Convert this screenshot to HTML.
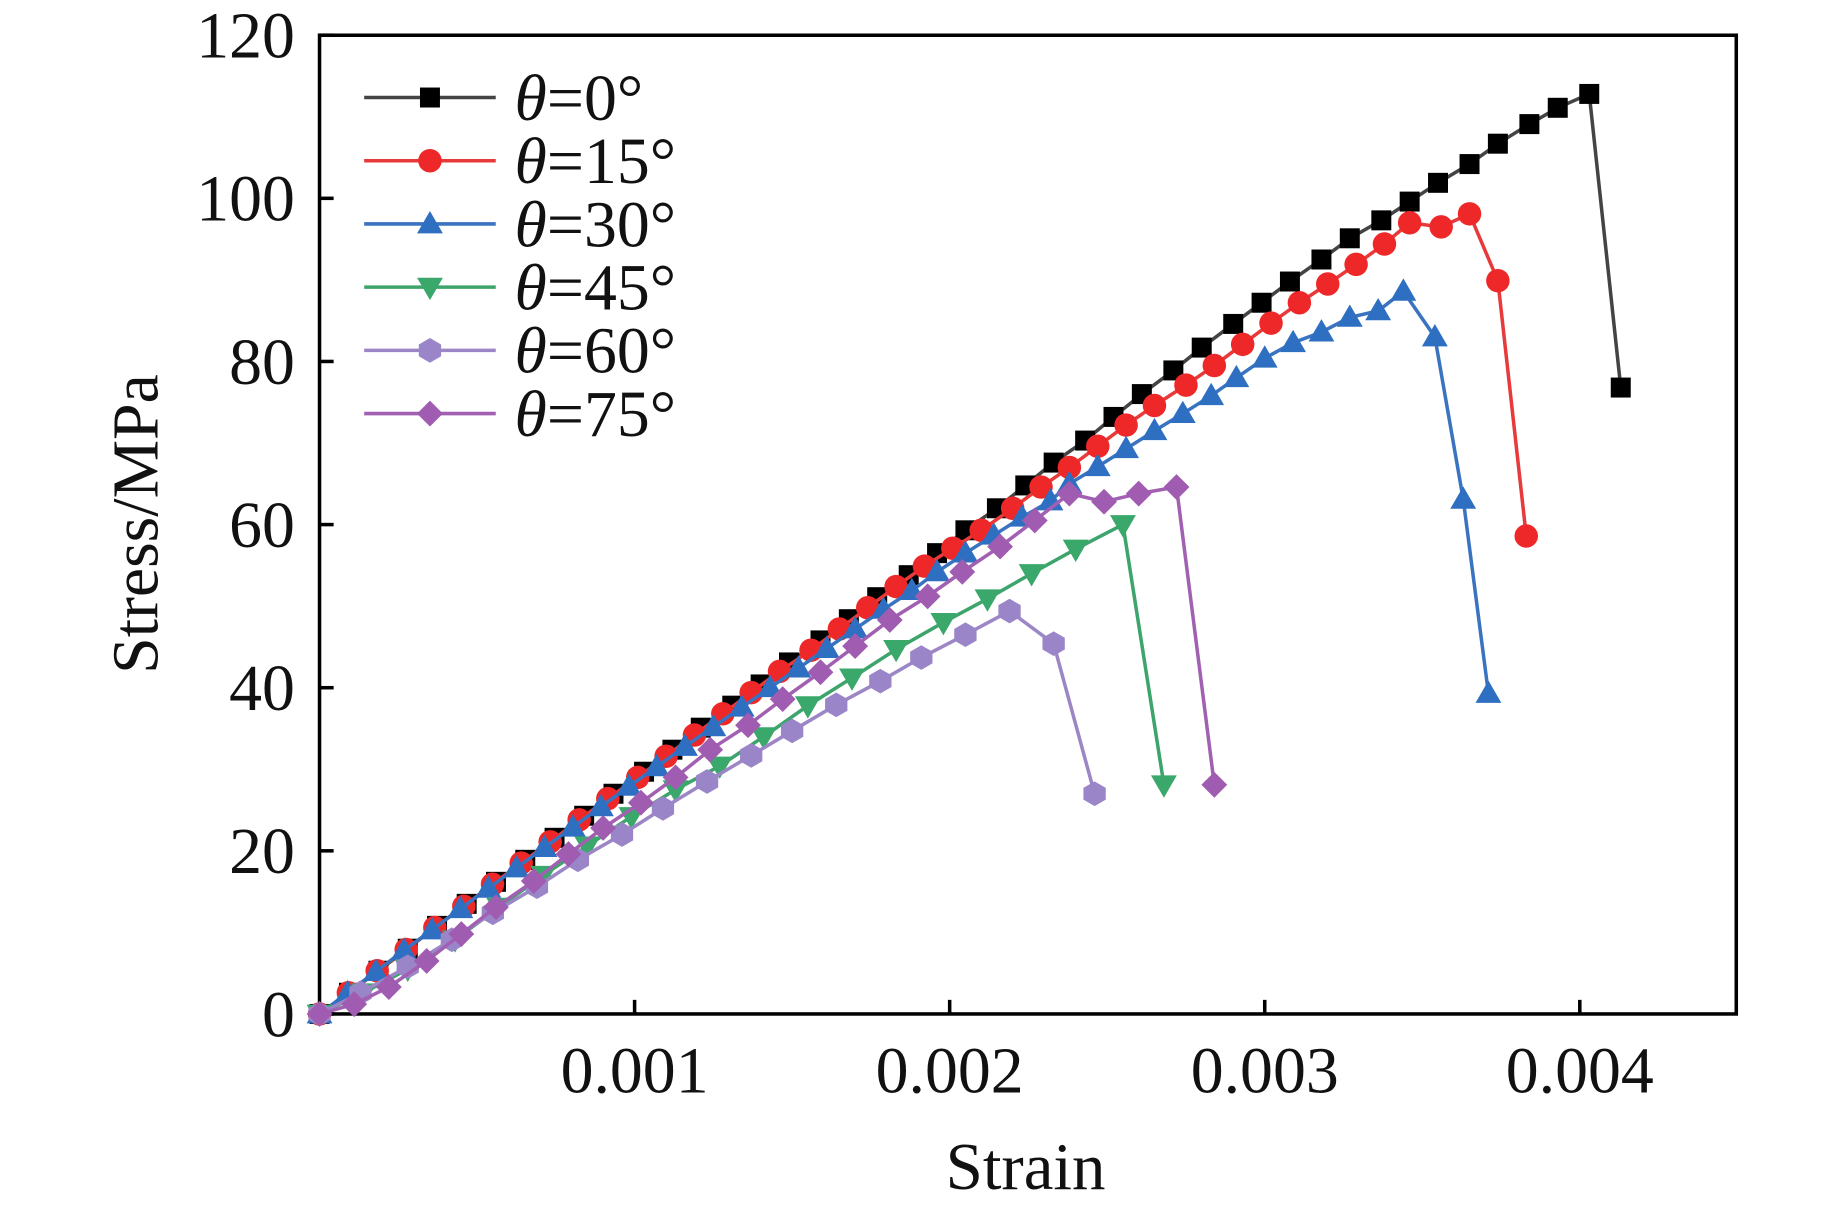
<!DOCTYPE html>
<html><head><meta charset="utf-8"><style>
html,body{margin:0;padding:0;background:#fff}
svg{display:block}
text{font-family:"Liberation Serif",serif;fill:#111}
</style></head><body>
<svg id="chart" width="1842" height="1209" viewBox="0 0 1568 1029" preserveAspectRatio="none" xmlns="http://www.w3.org/2000/svg">
<rect x="272" y="30" width="1206" height="833" fill="none" stroke="#000" stroke-width="3"/>
<g id="ticks"></g>
<g id="series"></g>
<g id="legend"></g>
<text x="873" y="1012" font-size="57" text-anchor="middle">Strain</text>
<text transform="translate(134,446) rotate(-90)" font-size="56" text-anchor="middle">Stress/MPa</text>
</svg>
<script>
const xTicks=[0.001,0.002,0.003,0.004];
const xTickLabels=["0.001","0.002","0.003","0.004"];
const yTicks=[0,20,40,60,80,100,120];
const seriesNames=["θ=0°","θ=15°","θ=30°","θ=45°","θ=60°","θ=75°"];
const s0=[[0,0],[0.0000933,2.6],[0.000187,5.3],[0.00028,8.0],[0.000373,10.8],[0.000467,13.5],[0.00056,16.2],[0.000653,18.9],[0.000746,21.6],[0.00084,24.3],[0.000933,27.0],[0.00103,29.7],[0.00112,32.4],[0.00121,35.1],[0.00131,37.8],[0.0014,40.4],[0.00149,43.1],[0.00159,45.8],[0.00168,48.4],[0.00177,51.1],[0.00187,53.8],[0.00196,56.5],[0.00205,59.3],[0.00215,62.0],[0.00224,64.8],[0.00233,67.6],[0.00243,70.3],[0.00252,73.2],[0.00261,76.0],[0.00271,78.9],[0.0028,81.7],[0.0029,84.6],[0.00299,87.2],[0.00308,89.8],[0.00318,92.5],[0.00327,95.1],[0.00337,97.3],[0.00346,99.6],[0.00355,101.9],[0.00365,104.2],[0.00374,106.7],[0.00384,109.1],[0.00393,111.1],[0.00403,112.8],[0.00413,76.8]];
const s15=[[0,0],[0.0000915,2.6],[0.000183,5.3],[0.000275,7.9],[0.000366,10.6],[0.000458,13.2],[0.000549,15.9],[0.00064,18.5],[0.000732,21.1],[0.000824,23.8],[0.000915,26.4],[0.00101,29.0],[0.0011,31.6],[0.00119,34.2],[0.00128,36.8],[0.00137,39.4],[0.00146,42.0],[0.00156,44.6],[0.00165,47.2],[0.00174,49.8],[0.00183,52.4],[0.00192,54.9],[0.00201,57.1],[0.0021,59.3],[0.0022,62.0],[0.00229,64.6],[0.00238,67.0],[0.00247,69.6],[0.00256,72.2],[0.00265,74.6],[0.00275,77.1],[0.00284,79.5],[0.00293,82.1],[0.00302,84.7],[0.00311,87.2],[0.0032,89.5],[0.00329,91.9],[0.00338,94.4],[0.00346,97.0],[0.00356,96.5],[0.00365,98.1],[0.00374,89.9],[0.00383,58.6]];
const s30=[[0,0],[0.0000893,2.6],[0.000179,5.2],[0.000268,7.8],[0.000357,10.3],[0.000447,12.9],[0.000536,15.4],[0.000625,17.9],[0.000714,20.4],[0.000804,22.9],[0.000893,25.4],[0.000982,27.9],[0.00107,30.3],[0.00116,32.8],[0.00125,35.2],[0.00134,37.6],[0.00143,40.0],[0.00152,42.4],[0.00161,44.8],[0.0017,47.2],[0.00179,49.6],[0.00188,51.9],[0.00196,54.2],[0.00205,56.5],[0.00214,58.7],[0.00223,60.9],[0.00232,62.9],[0.00238,65.0],[0.00247,67.1],[0.00256,69.3],[0.00265,71.5],[0.00274,73.6],[0.00283,75.8],[0.00291,78.0],[0.003,80.4],[0.00309,82.3],[0.00318,83.6],[0.00327,85.4],[0.00336,86.2],[0.00344,88.6],[0.00354,83.0],[0.00363,63.1],[0.00371,39.3]];
const s45=[[0,0],[0.00014,2.6],[0.00028,5.5],[0.00043,9.1],[0.00057,13.1],[0.00071,17.0],[0.00085,20.6],[0.00099,24.2],[0.00113,27.5],[0.00127,30.4],[0.00141,34.0],[0.00155,37.8],[0.00169,41.2],[0.00183,44.7],[0.00198,48.0],[0.00212,50.9],[0.00226,54.0],[0.0024,57.0],[0.00255,60.0],[0.00268,28.1]];
const s60=[[0,0],[0.00013,2.6],[0.00028,5.8],[0.00042,9.1],[0.00055,12.4],[0.00069,15.6],[0.00082,18.9],[0.00096,22.0],[0.00109,25.2],[0.00123,28.5],[0.00137,31.7],[0.0015,34.7],[0.00164,37.9],[0.00178,40.8],[0.00191,43.7],[0.00205,46.5],[0.00219,49.4],[0.00233,45.4],[0.00246,27.0]];
const s75=[[0,0],[0.00011,1.2],[0.00022,3.3],[0.00034,6.5],[0.00045,9.8],[0.00056,13.1],[0.00068,16.3],[0.00079,19.6],[0.0009,22.8],[0.00102,25.9],[0.00113,29.0],[0.00124,32.4],[0.00136,35.4],[0.00147,38.6],[0.00159,41.9],[0.0017,45.1],[0.00181,48.3],[0.00193,51.2],[0.00204,54.2],[0.00216,57.3],[0.00227,60.5],[0.00238,63.8],[0.00249,62.8],[0.0026,63.8],[0.00272,64.6],[0.00284,28.1]];

const NS="http://www.w3.org/2000/svg";
const X=v=>272+v/0.001*268.2;
const Y=v=>863-v*6.942;
function mk(tag,parent){const e=document.createElementNS(NS,tag);parent.appendChild(e);return e;}
const tk=document.getElementById('ticks');
xTicks.forEach((t,i)=>{
  const l=mk('line',tk);l.setAttribute('x1',X(t));l.setAttribute('x2',X(t));l.setAttribute('y1',863);l.setAttribute('y2',851);l.setAttribute('stroke','#000');l.setAttribute('stroke-width',3);
  
  
  const tx=mk('text',tk);tx.setAttribute('x',X(t));tx.setAttribute('y',930);tx.setAttribute('font-size',56);tx.setAttribute('text-anchor','middle');tx.textContent=xTickLabels[i];
  
  
});
yTicks.forEach(t=>{
  const l=mk('line',tk);l.setAttribute('x1',272);l.setAttribute('x2',284);l.setAttribute('y1',Y(t));l.setAttribute('y2',Y(t));l.setAttribute('stroke','#000');l.setAttribute('stroke-width',3);
  
  
  const tx=mk('text',tk);tx.setAttribute('x',251);tx.setAttribute('y',Y(t)+19);tx.setAttribute('font-size',56);tx.setAttribute('text-anchor','end');tx.textContent=String(t);
  
  
});
const styles=[
 {line:'#444',fill:'#000',m:'square'},
 {line:'#e83a3a',fill:'#ee2828',m:'circle'},
 {line:'#3a73c0',fill:'#2f6fc2',m:'tri'},
 {line:'#3da46c',fill:'#3aa86a',m:'tridown'},
 {line:'#9c86c6',fill:'#9a85c8',m:'hex'},
 {line:'#a260b2',fill:'#a05cb0',m:'diamond'}];
const data=[s0,s15,s30,s45,s60,s75];
function marker(g,type,x,y,fill){
  let e;
  if(type==='square'){e=mk('rect',g);e.setAttribute('x',x-8.5);e.setAttribute('y',y-8.5);e.setAttribute('width',17);e.setAttribute('height',17);}
  else if(type==='circle'){e=mk('circle',g);e.setAttribute('cx',x);e.setAttribute('cy',y);e.setAttribute('r',10);}
  else{
    let p;
    if(type==='tri')p=[[0,-11],[11,8],[-11,8]];
    else if(type==='tridown')p=[[0,11],[11,-8],[-11,-8]];
    else if(type==='diamond')p=[[0,-11],[11,0],[0,11],[-11,0]];
    else p=[[0,-10.5],[9.5,-5],[9.5,5],[0,10.5],[-9.5,5],[-9.5,-5]];
    e=mk('polygon',g);e.setAttribute('points',p.map(q=>(x+q[0])+','+(y+q[1])).join(' '));
  }
  e.setAttribute('fill',fill);
  return e;
}
const sg=document.getElementById('series');
data.forEach((d,i)=>{
  const g=mk('g',sg);
  
  
  const pl=mk('polyline',g);pl.setAttribute('points',d.map(p=>X(p[0])+','+Y(p[1])).join(' '));pl.setAttribute('fill','none');pl.setAttribute('stroke',styles[i].line);pl.setAttribute('stroke-width',3);
  
  
  d.forEach(p=>{const m=marker(g,styles[i].m,X(p[0]),Y(p[1]),styles[i].fill);
    
    });
});
const lg=document.getElementById('legend');
seriesNames.forEach((n,i)=>{
  const y=83+i*53.8;
  const g=mk('g',lg);
  
  
  const l=mk('line',g);l.setAttribute('x1',310);l.setAttribute('x2',422);l.setAttribute('y1',y);l.setAttribute('y2',y);l.setAttribute('stroke',styles[i].line);l.setAttribute('stroke-width',3);
  marker(g,styles[i].m,366,y,styles[i].fill);
  const t=mk('text',g);t.setAttribute('x',438);t.setAttribute('y',y+19);t.setAttribute('font-size',56);
  const th=mk('tspan',t);th.setAttribute('font-style','italic');th.textContent='θ';
  const r=mk('tspan',t);r.textContent=n.slice(1);
});
</script>
</body></html>
